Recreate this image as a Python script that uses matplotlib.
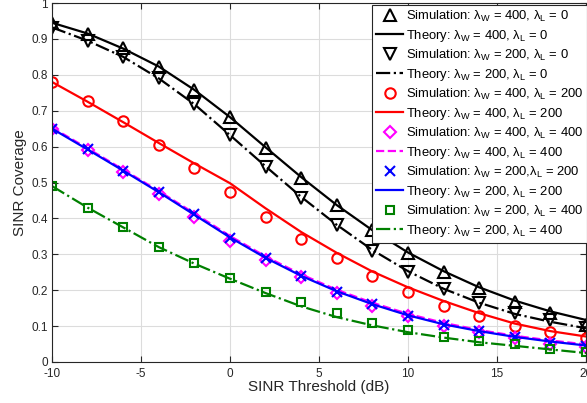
import matplotlib
matplotlib.use("Agg")
import matplotlib.pyplot as plt
import numpy as np

plt.rcParams['font.family'] = ['Liberation Sans', 'DejaVu Sans']
plt.rcParams['mathtext.default'] = 'regular'
plt.rcParams['axes.unicode_minus'] = False

x = [-10, -8, -6, -4, -2, 0, 2, 4, 6, 8, 10, 12, 14, 16, 18, 20]

sim_400_0 = [0.945, 0.915, 0.875, 0.823, 0.758, 0.682, 0.597, 0.513, 0.437, 0.367, 0.305, 0.252, 0.205, 0.168, 0.137, 0.104]
th_400_0 = [0.945, 0.915, 0.873, 0.823, 0.758, 0.682, 0.598, 0.515, 0.437, 0.367, 0.305, 0.253, 0.208, 0.171, 0.141, 0.117]

sim_200_0 = [0.930, 0.895, 0.850, 0.790, 0.718, 0.632, 0.544, 0.457, 0.381, 0.310, 0.252, 0.202, 0.165, 0.136, 0.118, 0.096]
th_200_0 = [0.932, 0.895, 0.850, 0.790, 0.718, 0.632, 0.545, 0.460, 0.382, 0.312, 0.253, 0.204, 0.165, 0.134, 0.112, 0.094]

sim_400_200 = [0.780, 0.727, 0.670, 0.605, 0.541, 0.474, 0.405, 0.343, 0.289, 0.240, 0.196, 0.157, 0.127, 0.101, 0.083, 0.066]
th_400_200 = [0.780, 0.725, 0.668, 0.610, 0.553, 0.498, 0.428, 0.362, 0.304, 0.252, 0.208, 0.170, 0.136, 0.107, 0.086, 0.071]

sim_400_400 = [0.650, 0.590, 0.530, 0.468, 0.403, 0.338, 0.283, 0.236, 0.193, 0.157, 0.127, 0.101, 0.083, 0.066, 0.051, 0.043]
th_400_400 = [0.653, 0.595, 0.536, 0.476, 0.414, 0.351, 0.294, 0.244, 0.201, 0.165, 0.134, 0.109, 0.089, 0.073, 0.060, 0.049]

sim_200_200 = [0.650, 0.592, 0.532, 0.473, 0.412, 0.345, 0.289, 0.240, 0.196, 0.162, 0.128, 0.103, 0.087, 0.070, 0.054, 0.045]
th_200_200 = [0.650, 0.592, 0.533, 0.473, 0.410, 0.347, 0.290, 0.240, 0.197, 0.161, 0.130, 0.105, 0.086, 0.070, 0.057, 0.046]

sim_200_400 = [0.490, 0.430, 0.377, 0.321, 0.275, 0.233, 0.196, 0.166, 0.136, 0.110, 0.089, 0.071, 0.059, 0.049, 0.036, 0.027]
th_200_400 = [0.490, 0.430, 0.375, 0.320, 0.274, 0.232, 0.192, 0.155, 0.125, 0.102, 0.083, 0.068, 0.055, 0.045, 0.035, 0.025]

xticks = [-10, -5, 0, 5, 10, 15, 20]
yticks = [0, 0.1, 0.2, 0.3, 0.4, 0.5, 0.6, 0.7, 0.8, 0.9, 1]
ytick_labels = ['0', '0.1', '0.2', '0.3', '0.4', '0.5', '0.6', '0.7', '0.8', '0.9', '1']

fig = plt.figure(figsize=(5.87, 4.03), dpi=100)
W, H = 587, 403
ax = fig.add_axes([52 / W, 1 - 362 / H, (586 - 52) / W, (362 - 3) / H])

lw = 1.6
mew = 1.5
ax.plot(x, sim_400_0, linestyle='none', marker='^', ms=8.5, mfc='none', mec='black', mew=mew,
        label=r'Simulation: $\lambda_W$ = 400, $\lambda_L$ = 0')
ax.plot(x, th_400_0, '-', color='black', lw=lw, label=r'Theory: $\lambda_W$ = 400, $\lambda_L$ = 0')
ax.plot(x, sim_200_0, linestyle='none', marker='v', ms=8.5, mfc='none', mec='black', mew=mew,
        label=r'Simulation: $\lambda_W$ = 200, $\lambda_L$ = 0')
ax.plot(x, th_200_0, '-.', color='black', lw=lw, label=r'Theory: $\lambda_W$ = 200, $\lambda_L$ = 0')
ax.plot(x, sim_400_200, linestyle='none', marker='o', ms=7.5, mfc='none', mec='red', mew=mew,
        label=r'Simulation: $\lambda_W$ = 400, $\lambda_L$ = 200')
ax.plot(x, th_400_200, '-', color='red', lw=lw, label=r'Theory: $\lambda_W$ = 400, $\lambda_L$ = 200')
ax.plot(x, sim_400_400, linestyle='none', marker='D', ms=6, mfc='none', mec='magenta', mew=mew,
        label=r'Simulation: $\lambda_W$ = 400, $\lambda_L$ = 400')
ax.plot(x, th_400_400, '--', color='magenta', lw=lw, label=r'Theory: $\lambda_W$ = 400, $\lambda_L$ = 400')
ax.plot(x, sim_200_200, linestyle='none', marker='x', ms=7, mec='blue', mew=mew,
        label=r'Simulation: $\lambda_W$ = 200,$\lambda_L$ = 200')
ax.plot(x, th_200_200, '-', color='blue', lw=lw, label=r'Theory: $\lambda_W$ = 200, $\lambda_L$ = 200')
ax.plot(x, sim_200_400, linestyle='none', marker='s', ms=5.5, mfc='none', mec='green', mew=mew,
        label=r'Simulation: $\lambda_W$ = 200, $\lambda_L$ = 400')
ax.plot(x, th_200_400, '-.', color='green', lw=lw, label=r'Theory: $\lambda_W$ = 200, $\lambda_L$ = 400')

ax.set_xlim(-10, 20)
ax.set_ylim(0, 1)
ax.set_xticks(xticks)
ax.set_yticks(yticks)
ax.set_yticklabels(ytick_labels)
ax.grid(True, color='#dcdcdc', lw=0.8)
ax.set_axisbelow(True)
ax.tick_params(direction='in', top=True, right=True, labelsize=8.5, colors='#262626', length=4, pad=3)
ax.tick_params(axis='x', pad=4)
for s in ax.spines.values():
    s.set_color('#262626')
    s.set_linewidth(0.8)
ax.set_xlabel('SINR Threshold (dB)', fontsize=11, color='#262626', labelpad=0)
ax.set_ylabel('SINR Coverage', fontsize=11, color='#262626', labelpad=3)

leg = ax.legend(loc='upper left', bbox_to_anchor=(372 / W, 1 - 5 / H), bbox_transform=fig.transFigure,
                fontsize=9.4, frameon=True, fancybox=False, framealpha=1, edgecolor='#262626',
                handlelength=2.1, handletextpad=0.2, labelspacing=0.3, borderpad=0.3, borderaxespad=0)
leg.get_frame().set_linewidth(0.8)

fig.savefig('out.png', dpi=100)
